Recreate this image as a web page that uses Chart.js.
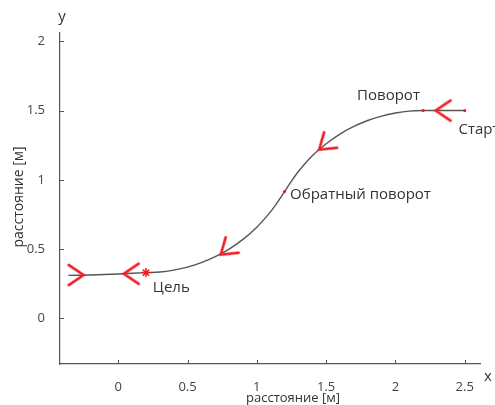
<!DOCTYPE html>
<html>
<head>
<meta charset="utf-8">
<script src="https://cdn.jsdelivr.net/npm/chart.js@4/dist/chart.umd.min.js"></script>
<style>
  html, body { margin: 0; padding: 0; background: #fff; }
</style>
</head>
<body>
<canvas id="path" width="495" height="405"></canvas>
<script>
// trajectory (metres)
const pathX = [2.5, 2.2, 2.1, 2.0, 1.9, 1.8, 1.7, 1.6, 1.5, 1.4, 1.3, 1.25, 1.2, 1.15, 1.1, 1.0, 0.9, 0.8, 0.7, 0.6, 0.5, 0.4, 0.3, 0.2, 0.0, -0.2, -0.36];
const pathY = [1.5, 1.5, 1.496, 1.482, 1.46, 1.428, 1.385, 1.33, 1.26, 1.173, 1.06, 0.991, 0.915, 0.839, 0.77, 0.658, 0.57, 0.50, 0.445, 0.402, 0.37, 0.348, 0.334, 0.33, 0.32, 0.313, 0.31];

// red key points: start, turn, reverse turn
const dotX = [2.5, 2.2, 1.2];
const dotY = [1.5, 1.5, 0.915];

// goal
const goalX = [0.2];
const goalY = [0.33];

// heading arrows
const arrowX = [2.29, 1.45, 0.74, 0.04, -0.25];
const arrowY = [1.5, 1.218, 0.46, 0.322, 0.312];

const xTicks = [0, 0.5, 1, 1.5, 2, 2.5];
const yTicks = [0, 0.5, 1, 1.5, 2];

const noteText = ['Поворот', 'Старт', 'Обратный поворот', 'Цель'];
const noteX = [1.95, 2.455, 1.24, 0.25];
const noteY = [1.61, 1.36, 0.89, 0.22];

const pts = (xs, ys) => xs.map((x, i) => ({ x: x, y: ys[i] }));

// chevron "<" with its tip in the middle of the image
function chevron(len) {
  const c = document.createElement('canvas');
  c.width = len * 2 + 6; c.height = len * 2 + 6;
  const g = c.getContext('2d');
  const m = c.width / 2, a = 34 * Math.PI / 180;
  g.strokeStyle = '#ee1c25';
  g.lineWidth = 2.6;
  g.lineCap = 'round';
  g.beginPath();
  g.moveTo(m + len * Math.cos(a), m - len * Math.sin(a));
  g.lineTo(m, m);
  g.lineTo(m + len * Math.cos(a), m + len * Math.sin(a));
  g.stroke();
  return c;
}
const arrowImg = chevron(18);
const arrowRotation = [0, -40, -40, 0, 180];

const textPlugin = {
  id: 'texts',
  afterDraw(chart) {
    const { ctx, scales: { x, y } } = chart;
    ctx.save();
    ctx.fillStyle = '#333';
    ctx.font = '15px "Open Sans"';
    ctx.textBaseline = 'middle';
    noteText.forEach((t, i) => {
      ctx.textAlign = i === 0 ? 'center' : 'left';
      ctx.fillText(t, x.getPixelForValue(noteX[i]), y.getPixelForValue(noteY[i]));
    });

    // inward tick marks
    ctx.strokeStyle = '#555';
    ctx.lineWidth = 1;
    ctx.beginPath();
    xTicks.forEach(v => {
      const px = Math.round(x.getPixelForValue(v)) + 0.5;
      ctx.moveTo(px, y.bottom); ctx.lineTo(px, y.bottom - 4);
    });
    yTicks.forEach(v => {
      const py = Math.round(y.getPixelForValue(v)) + 0.5;
      ctx.moveTo(x.left, py); ctx.lineTo(x.left + 4, py);
    });
    ctx.stroke();

    // axis names
    ctx.fillStyle = '#333';
    ctx.font = '15px "Open Sans"';
    ctx.textAlign = 'center';
    ctx.fillText('y', x.left + 2, 17);
    ctx.fillText('x', x.right + 8, y.bottom + 13);

    ctx.font = '13px "Open Sans"';
    ctx.fillText('расстояние [м]', 293, 398);
    ctx.font = '14px "Open Sans"';
    ctx.translate(19, 197);
    ctx.rotate(-Math.PI / 2);
    ctx.fillText('расстояние [м]', 0, 0);
    ctx.restore();
  }
};

const tickFont = { family: 'Open Sans', size: 13 };

new Chart(document.getElementById('path'), {
  type: 'scatter',
  data: {
    datasets: [
      {
        label: 'arrows',
        data: pts(arrowX, arrowY),
        pointStyle: arrowImg,
        rotation: arrowRotation,
        pointRadius: 10
      },
      {
        label: 'goal',
        data: pts(goalX, goalY),
        pointStyle: 'star',
        pointRadius: 4.5,
        borderColor: '#ee1c25',
        borderWidth: 1.5
      },
      {
        label: 'points',
        data: pts(dotX, dotY),
        pointRadius: 1.6,
        backgroundColor: '#ee1c25',
        borderWidth: 0
      },
      {
        label: 'path',
        data: pts(pathX, pathY),
        showLine: true,
        borderColor: '#555',
        borderWidth: 1.4,
        tension: 0.3,
        pointRadius: 0
      }
    ]
  },
  options: {
    responsive: false,
    animation: false,
    layout: { padding: { top: 33, right: 15, left: 0, bottom: 0 } },
    plugins: { legend: { display: false }, tooltip: { enabled: false } },
    scales: {
      x: {
        type: 'linear',
        min: -0.42,
        max: 2.61,
        afterBuildTicks: s => { s.ticks = xTicks.map(v => ({ value: v })); },
        afterFit: s => { s.height = 41; },
        grid: { display: false },
        border: { display: true, color: '#555', width: 1.2 },
        ticks: { color: '#444', padding: 7, font: tickFont, callback: v => String(v) }
      },
      y: {
        type: 'linear',
        min: -0.33,
        max: 2.06,
        afterBuildTicks: s => { s.ticks = yTicks.map(v => ({ value: v })); },
        afterFit: s => { s.width = 60; },
        grid: { display: false },
        border: { display: true, color: '#555', width: 1.2 },
        ticks: { color: '#444', padding: 7, font: tickFont, callback: v => String(v) }
      }
    }
  },
  plugins: [textPlugin]
});
</script>
</body>
</html>
